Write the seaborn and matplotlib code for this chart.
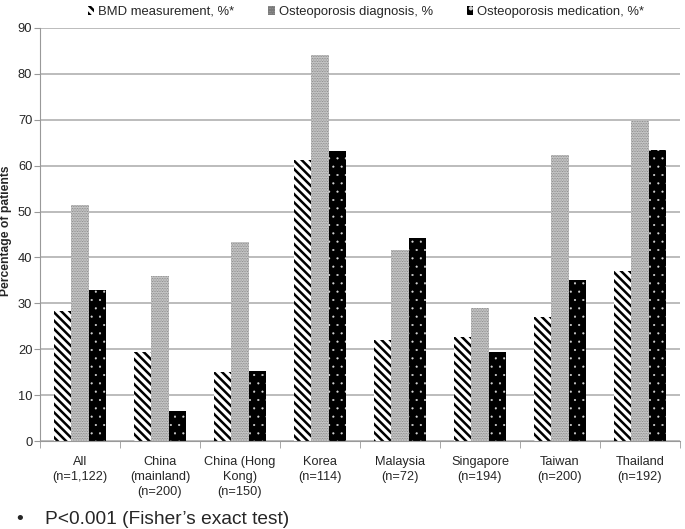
import matplotlib
matplotlib.use("Agg")
import matplotlib.pyplot as plt
import seaborn as sns
import pandas as pd
from matplotlib.patches import Patch

categories = ["All\n(n=1,122)", "China\n(mainland)\n(n=200)", "China (Hong\nKong)\n(n=150)",
              "Korea\n(n=114)", "Malaysia\n(n=72)", "Singapore\n(n=194)", "Taiwan\n(n=200)",
              "Thailand\n(n=192)"]
series_names = ["BMD measurement, %*", "Osteoporosis diagnosis, %", "Osteoporosis medication, %*"]
bmd = [28.3, 19.5, 15.0, 61.3, 22.1, 22.7, 27.0, 37.0]
diagnosis = [51.5, 36.0, 43.3, 84.1, 41.6, 29.0, 62.3, 69.8]
medication = [32.9, 6.5, 15.2, 63.2, 44.3, 19.5, 35.0, 63.4]
yticks = [0, 10, 20, 30, 40, 50, 60, 70, 80, 90]

rows = []
for name, vals in zip(series_names, [bmd, diagnosis, medication]):
    for c, v in zip(categories, vals):
        rows.append({"cat": c, "series": name, "value": v})
df = pd.DataFrame(rows)

sns.set_style("white")
plt.rcParams["font.family"] = ["Liberation Sans", "DejaVu Sans"]
plt.rcParams["hatch.linewidth"] = 1.8

fig = plt.figure(figsize=(6.85, 5.29), dpi=100)
ax = fig.add_axes([40/685, 1-441/529, 640/685, (441-28)/529])

sns.barplot(data=df, x="cat", y="value", hue="series", order=categories,
            hue_order=series_names, ax=ax, width=0.66, legend=False,
            palette=["white", "#c4c4c4", "black"], saturation=1)

styles = [
    dict(face="white", hatch="\\" * 4, edge="black", hlw=1.8),
    dict(face="#cccccc", hatch="." * 10, edge="#7a7a7a", hlw=0.5),
    dict(face="black", hatch="..", edge="#d8d8d8", hlw=0.3),
]


def style_patch(p, st):
    p.set_facecolor(st["face"])
    p.set_hatch(st["hatch"])
    p.set_edgecolor(st["edge"])
    p.set_linewidth(0)
    if hasattr(p, "set_hatch_linewidth"):
        p.set_hatch_linewidth(st["hlw"])


for cont, st in zip(ax.containers, styles):
    for p in cont.patches:
        style_patch(p, st)

ax.set_ylim(0, 90)
ax.set_yticks(yticks)
ax.set_xlim(-0.5, len(categories) - 0.5)
ax.yaxis.grid(True, color="#b0b0b0", linewidth=1.2)
ax.set_axisbelow(True)
for s in ["top", "right"]:
    ax.spines[s].set_visible(False)
ax.spines["left"].set_color("#999999")
ax.spines["bottom"].set_color("#999999")
ax.tick_params(axis="y", length=4, color="#999999", labelsize=9.3, direction="out", left=True, pad=1.5)
ax.tick_params(axis="x", length=0, labelsize=9.2, pad=11)
ax.set_xticks(range(len(categories)))
ax.set_xticklabels(categories, linespacing=1.3)
ax.set_xticks([i + 0.5 for i in range(-1, len(categories))], minor=True)
ax.tick_params(axis="x", which="minor", length=5, color="#999999", direction="out", bottom=True)
ax.set_xlabel("")
ax.set_ylabel("Percentage of patients", fontsize=8.7, fontweight="bold")
ax.yaxis.set_label_coords(-28/640, 0.51)

handles = []
for st in styles:
    h = Patch(facecolor=st["face"], hatch=st["hatch"], edgecolor=st["edge"], linewidth=0)
    if hasattr(h, "set_hatch_linewidth"):
        h.set_hatch_linewidth(st["hlw"])
    handles.append(h)
fig.legend(handles, series_names, loc="center", bbox_to_anchor=(366/685, 1-12/529), ncol=3,
           frameon=False, fontsize=9.4, handlelength=0.5, handleheight=0.6,
           handletextpad=0.3, columnspacing=2.6, borderpad=0)

fig.text(20/685, 1-524/529, "•", fontsize=14, va="baseline", ha="center")
fig.text(45/685, 1-524/529, "P<0.001 (Fisher\u2019s exact test)", fontsize=13.8, va="baseline", ha="left")

fig.savefig("out.png", dpi=100)
